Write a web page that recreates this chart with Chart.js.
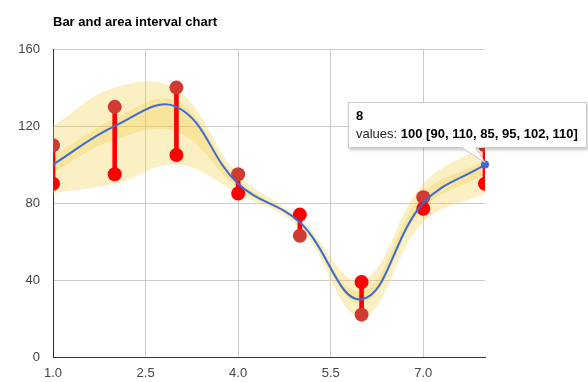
<!DOCTYPE html>
<html>
<head>
<meta charset="utf-8">
<script src="https://cdn.jsdelivr.net/npm/chart.js@4.4.1/dist/chart.umd.min.js"></script>
<style>
  html, body { margin: 0; padding: 0; background: #fff; }
  #wrap { position: relative; width: 588px; height: 382px; overflow: hidden; }
  #c { display: block; }
  #tip {
    position: absolute; background: #fff; border: 1px solid #ccc;
    box-shadow: 1px 2px 3px rgba(0,0,0,0.22);
    font-family: Arial, "Liberation Sans", sans-serif; font-size: 13px; line-height: 18px;
    color: #000; padding: 4px 8px 4px 7px; white-space: nowrap; z-index: 1;
  }
  #tip .lbl { color: #222; }
  #tail { position: absolute; left: 0; top: 0; z-index: 2; pointer-events: none; }
</style>
</head>
<body>
<div id="wrap">
  <canvas id="c" width="588" height="382"></canvas>
  <div id="tip"><div><b id="tipTitle"></b></div><div><span class="lbl">values: </span><b id="tipValue"></b></div></div>
  <svg id="tail" width="588" height="382"><polygon id="tailPoly" fill="#fff" stroke="none"></polygon><polyline id="tailLine" fill="none" stroke="#c8c8c8" stroke-width="1"></polyline></svg>
</div>
<script>
// ---- data ----
const chartTitle = 'Bar and area interval chart';
const xValues = [1, 2, 3, 4, 5, 6, 7, 8];
const values  = [100, 120, 130, 90, 70, 30, 80, 100];
const i0      = [90, 95, 105, 85, 74, 39, 77, 90];
const i1      = [110, 130, 140, 95, 63, 22, 83, 110];
const i2      = [85, 90, 100, 85, 67, 21, 70, 85];
const i3      = [96, 113, 117, 88, 69, 28, 77, 95];
const i4      = [104, 124, 133, 92, 70, 34, 85, 102];
const i5      = [120, 140, 139, 95, 72, 40, 90, 110];
const xTicks  = [1, 2.5, 4, 5.5, 7];
const yTicks  = [0, 40, 80, 120, 160];
const tooltipIndex = 7;

// ---- styles ----
const FONT = 'Arial, "Liberation Sans", sans-serif';
const LINE = '#3B6CD4';
const BAND = 'rgba(241,202,58,0.3)';
const RED = '#FF0000';
const DARKRED = '#D13A30';
const TENSION = 0.4;

const pts = ys => xValues.map((x, k) => ({ x: x, y: ys[k] }));
const bandLine = (label, ys, fill, order) => ({
  type: 'line', label: label, data: pts(ys), borderColor: 'rgba(0,0,0,0)', borderWidth: 0,
  pointRadius: 0, pointHoverRadius: 0, tension: TENSION, fill: fill,
  backgroundColor: BAND, order: order
});

const tipPlugin = {
  id: 'tipPlugin',
  afterDraw(chart) {
    const xs = chart.scales.x, ys = chart.scales.y;
    const px = xs.getPixelForValue(xValues[tooltipIndex]);
    const py = ys.getPixelForValue(values[tooltipIndex]);
    document.getElementById('tipTitle').textContent = String(xValues[tooltipIndex]);
    document.getElementById('tipValue').textContent = values[tooltipIndex] + ' [' +
      [i0, i1, i2, i3, i4, i5].map(a => a[tooltipIndex]).join(', ') + ']';
    const tip = document.getElementById('tip');
    const left = Math.round(px) - 137, top = Math.round(py) - 63;
    tip.style.left = left + 'px';
    tip.style.top = top + 'px';
    const bottom = top + tip.offsetHeight - 1;
    const a = Math.round(px) - 24, b = Math.round(px) - 10;
    document.getElementById('tailPoly').setAttribute('points',
      a + ',' + (bottom - 0.5) + ' ' + b + ',' + (bottom - 0.5) + ' ' + px + ',' + (py - 2));
    document.getElementById('tailLine').setAttribute('points',
      (a + 0.5) + ',' + (bottom + 0.5) + ' ' + px + ',' + (py - 2) + ' ' + (b + 0.5) + ',' + (bottom + 0.5));
  }
};

new Chart(document.getElementById('c'), {
  type: 'line',
  data: {
    datasets: [
      { type: 'line', label: 'values', data: pts(values), borderColor: LINE, borderWidth: 2,
        tension: TENSION, fill: false, order: 0, clip: 6,
        pointRadius: ctx => ctx.dataIndex === tooltipIndex ? 4 : 0,
        pointBackgroundColor: LINE, pointBorderWidth: 0 },
      { type: 'line', label: 'i0', data: pts(i0), showLine: false, pointRadius: 7,
        pointBackgroundColor: RED, pointBorderWidth: 0, order: 1, clip: 0 },
      { type: 'line', label: 'i1', data: pts(i1), showLine: false, pointRadius: 7,
        pointBackgroundColor: DARKRED, pointBorderWidth: 0, order: 2, clip: 0 },
      { type: 'bar', label: 'bars', data: xValues.map((x, k) => ({ x: x, y: [i0[k], i1[k]] })),
        backgroundColor: RED, borderWidth: 0, barThickness: 4, grouped: false, order: 3, clip: 0 },
      bandLine('i2', i2, false, 4),
      bandLine('i5', i5, '-1', 5),
      bandLine('i3', i3, false, 6),
      bandLine('i4', i4, '-1', 7)
    ]
  },
  options: {
    responsive: false,
    animation: false,
    events: [],
    layout: { padding: { left: 0, right: 103, top: 0, bottom: 0 } },
    plugins: {
      legend: { display: false },
      tooltip: { enabled: false },
      title: {
        display: true, text: chartTitle, align: 'start', fullSize: false, color: '#000',
        font: { family: FONT, size: 13, weight: 'bold' },
        padding: { top: 15, bottom: 18.5 }
      }
    },
    scales: {
      x: {
        type: 'linear', min: 1, max: 8, offset: false,
        afterBuildTicks: s => { s.ticks = xTicks.map(v => ({ value: v })); },
        afterFit: s => { s.height = 25; },
        ticks: { callback: v => Number(v).toFixed(1), color: '#444', font: { family: FONT, size: 13 },
                 padding: 9, maxRotation: 0, autoSkip: false },
        grid: { color: '#cccccc', drawTicks: false, offset: false },
        border: { color: '#333333' }
      },
      y: {
        type: 'linear', min: 0, max: 160,
        afterBuildTicks: s => { s.ticks = yTicks.map(v => ({ value: v })); },
        afterFit: s => { s.width = 53; },
        ticks: { callback: v => String(v), color: '#444', font: { family: FONT, size: 13 }, padding: 13 },
        grid: { color: '#cccccc', drawTicks: false },
        border: { color: '#333333' }
      }
    }
  },
  plugins: [tipPlugin]
});
</script>
</body>
</html>
